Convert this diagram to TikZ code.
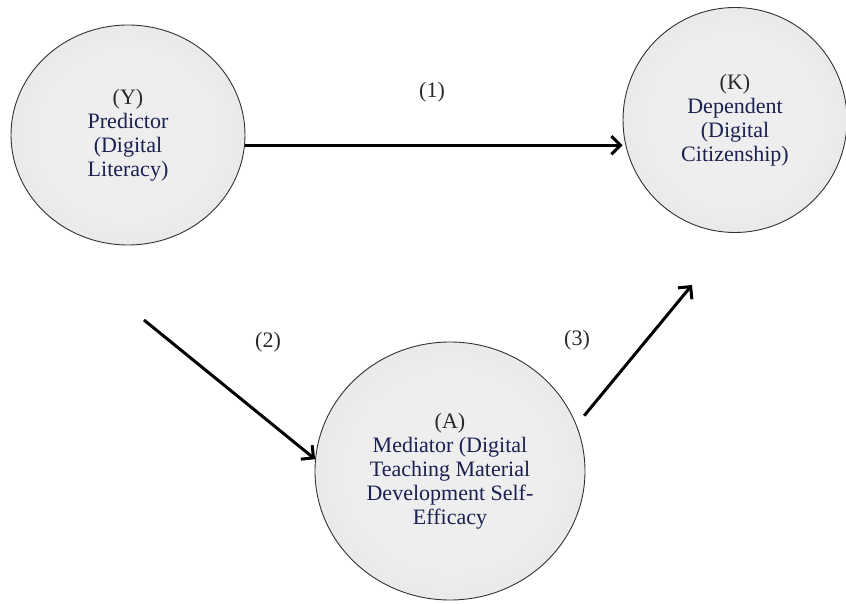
\documentclass[tikz,border=0pt]{standalone}
\usepackage{fontspec}
\setmainfont{Liberation Serif}
\usetikzlibrary{shapes.geometric,arrows.meta,calc}
\definecolor{navy}{RGB}{26,32,80}
\definecolor{labgray}{RGB}{40,40,45}
\definecolor{edgegray}{RGB}{50,50,50}
\definecolor{cin}{RGB}{238,238,238}
\definecolor{cmid}{RGB}{224,224,224}
\definecolor{cout}{RGB}{198,198,198}
\pgfdeclareradialshading{softball}{\pgfpoint{0bp}{0bp}}{color(0bp)=(cin); color(18bp)=(cin); color(40bp)=(cmid); color(50bp)=(cout); color(75bp)=(cout)}
\begin{document}
\begin{tikzpicture}[x=1pt,y=-1pt,
  var/.style={ellipse, draw=edgegray, line width=0.9pt, shading=softball, inner sep=0pt, align=center, text=navy, font=\fontsize{22}{24}\selectfont},
  arr/.style={line width=3pt, -{Straight Barb[length=9pt,width=18pt]}},
  lab/.style={text=labgray, font=\fontsize{22}{24}\selectfont}]
\fill[white] (0,0) rectangle (846,604);
\useasboundingbox (0,0) rectangle (846,604);
\node[var, minimum width=234pt, minimum height=220pt] (Y) at (128,135) {{\color{labgray}(Y)}\\Predictor\\(Digital\\Literacy)};
\node[var, minimum width=224pt, minimum height=225pt] (K) at (735,120) {{\color{labgray}(K)}\\Dependent\\(Digital\\Citizenship)};
\node[var, minimum width=270pt, minimum height=258pt] (A) at (450,471) {{\color{labgray}(A)}\\Mediator (Digital\\Teaching Material\\Development Self-\\Efficacy};
\coordinate (s2) at (144,320);
\coordinate (e3) at (692,285);
\draw[arr] (Y.-5) -- (Y.-5 -| K.west);
\draw[arr] (s2) -- (A.175);
\draw[arr, shorten <=12pt] (A.20) -- (e3);
\node[lab] (l1) at (432,92) {(1)};
\node[lab] (l2) at (268,342) {(2)};
\node[lab] (l3) at (577,340) {(3)};
\end{tikzpicture}
\end{document}
